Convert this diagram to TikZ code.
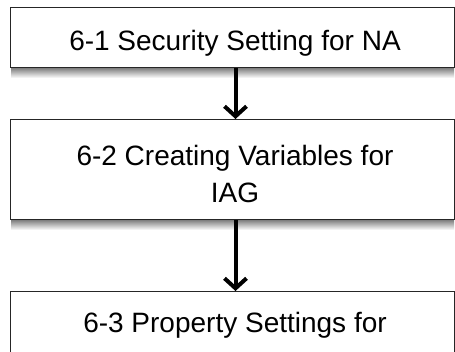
\documentclass[tikz,border=0pt]{standalone}
\usepackage{fontspec}
\setmainfont{Liberation Sans}
\usetikzlibrary{arrows.meta}
\begin{document}
\begin{tikzpicture}[x=1pt,y=-1pt,
  box/.style={draw=black!85, line width=1pt, fill=white, minimum width=444.5pt, anchor=north west, inner sep=0pt},
  lbl/.style={anchor=base, inner sep=0pt, font=\fontsize{28}{38}\selectfont},
  shadowband/.style={top color=black!55, bottom color=white, draw=none},
  flow/.style={line width=4pt, -{Straight Barb[length=10pt,width=22pt]}}]
\useasboundingbox (0,0) rectangle (455,351);
\clip (0,0) rectangle (455,351);
% shadows
\shade[shadowband] (11,67) rectangle (454,78);
\shade[shadowband] (11,219) rectangle (454,230);
% boxes
\node[box, minimum height=60.3pt] (b1) at (9.5,6.7) {};
\node[box, minimum height=100pt] (b2) at (9.5,119) {};
\node[box, minimum height=100pt] (b3) at (9.5,291) {};
% labels
\node[lbl] (t1) at (235,50.7) {6-1 Security Setting for NA};
\node[lbl] (t2a) at (235,165) {6-2 Creating Variables for};
\node[lbl] (t2b) at (235,202.5) {IAG};
\node[lbl] (t3) at (235,332) {6-3 Property Settings for};
% connectors
\draw[flow] ([xshift=3.25pt]b1.south) -- ([xshift=3.25pt]b2.north);
\draw[flow] ([xshift=3.25pt]b2.south) -- ([xshift=3.25pt]b3.north);
\end{tikzpicture}
\end{document}
